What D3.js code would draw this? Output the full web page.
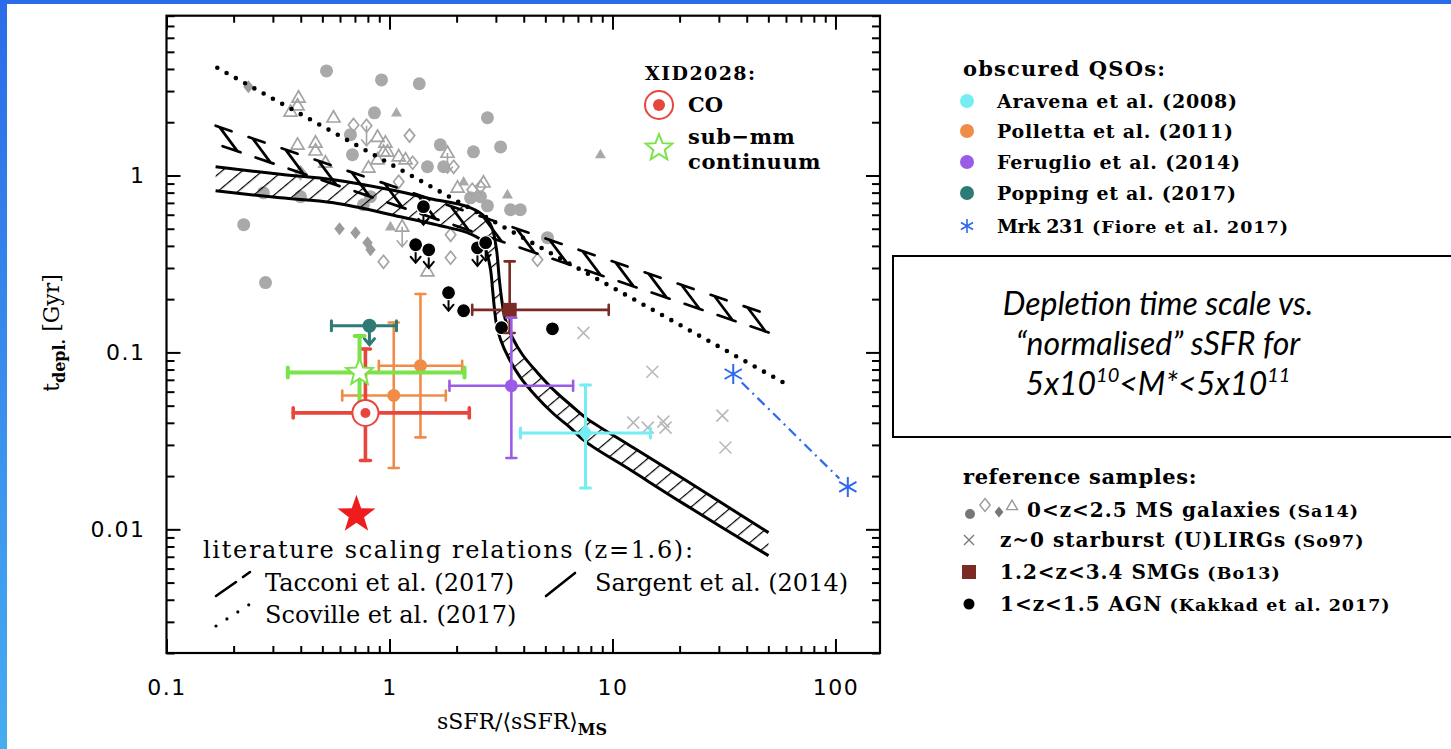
<!DOCTYPE html>
<html>
<head>
<meta charset="utf-8">
<script src="https://cdn.jsdelivr.net/npm/d3@7"></script>
<style>
  html, body { margin: 0; padding: 0; background: #fff; }
  svg { display: block; }
</style>
</head>
<body>
<svg id="chart" width="1451" height="749"></svg>
<script>
// ---------------- axis ticks ----------------
const xMajorTicks = [0.1, 1, 10, 100];
const xTickLabels = ["0.1", "1", "10", "100"];
const yMajorTicks = [0.01, 0.1, 1];
const yTickLabels = ["0.01", "0.1", "1"];

// ---------------- reference samples: MS galaxies (Sa14) ----------------
// [sSFR/<sSFR>_MS, t_depl (Gyr), upper limit?]
const msCircles = [
  [0.522, 3.90], [0.921, 3.47], [1.36, 3.30], [0.856, 2.26], [2.75, 2.12],
  [0.668, 1.70], [1.69, 1.49], [2.38, 1.36], [3.15, 1.45], [0.682, 1.31],
  [1.48, 1.12], [1.75, 1.12], [2.75, 0.674], [3.49, 0.640], [3.86, 0.640],
  [2.56, 0.758], [2.31, 0.748], [5.11, 0.445], [0.222, 0.527], [0.278, 0.248],
  [0.272, 0.798], [0.399, 0.758], [0.764, 0.683], [0.822, 0.758]
];
const msOpenDiamonds = [
  [0.690, 1.93], [0.789, 1.91, 1], [1.23, 1.68], [1.94, 1.12], [1.27, 1.18],
  [1.10, 0.921], [2.35, 0.830], [1.88, 0.462], [0.940, 0.325], [1.88, 0.343],
  [4.61, 0.334], [0.399, 1.035], [2.56, 0.863]
];
const msFilledDiamonds = [
  [0.233, 3.17], [0.597, 0.500], [0.704, 0.475], [0.797, 0.417], [0.822, 0.380]
];
const msOpenTriangles = [
  [0.391, 2.75], [0.387, 2.48], [0.360, 2.29], [0.561, 2.12], [0.884, 1.65],
  [0.959, 1.53], [0.387, 1.49], [0.466, 1.53], [0.466, 1.38], [0.884, 1.23],
  [0.980, 1.36], [1.10, 1.28], [1.18, 1.23], [1.82, 1.34, 1], [0.805, 1.105],
  [0.516, 1.18], [1.48, 0.286], [2.02, 0.852], [2.64, 0.910], [0.940, 1.36],
  [1.14, 0.513, 1]
];
const msFilledTriangles = [
  [1.075, 2.26], [8.83, 1.31], [2.15, 0.921], [3.38, 0.778], [1.01, 0.513]
];

// z~0 starburst (U)LIRGs (So97)
const ulirgs = [
  [7.41, 0.129], [15.1, 0.0778], [12.4, 0.0401], [14.4, 0.0376],
  [16.9, 0.0406], [17.3, 0.0376], [31.1, 0.0439], [32.1, 0.0290]
];

// 1<z<1.5 AGN (Kakkad et al. 2017)
const agnLimits = [
  [1.42, 0.666], [1.31, 0.406], [1.50, 0.380], [2.48, 0.390], [2.70, 0.417], [1.84, 0.2175]
];
const agnDetections = [[2.15, 0.172], [3.18, 0.138], [5.38, 0.136]];

// 1.2<z<3.4 SMGs (Bo13)
const smg = { x: 3.46, xlo: 2.35, xhi: 9.62, y: 0.174, ylo: 0.1288, yhi: 0.327 };

// ---------------- obscured QSOs ----------------
const aravena = { x: 7.57, xlo: 3.87, xhi: 14.8, y: 0.0350, ylo: 0.01714, yhi: 0.0654 };
const polletta = [
  { x: 1.045, xlo: 0.614, xhi: 1.789, y: 0.0571, ylo: 0.0222, yhi: 0.1477 },
  { x: 1.377, xlo: 0.896, xhi: 2.118, y: 0.0841, ylo: 0.0331, yhi: 0.2138 }
];
const feruglio = { x: 3.52, xlo: 1.858, xhi: 6.66, y: 0.0648, ylo: 0.0253, yhi: 0.157 };
const popping = { x: 0.813, xlo: 0.549, xhi: 1.075, y: 0.1415 };   // upper limit
const mrk231 = [[34.8, 0.0755], [113.6, 0.01737]];

// ---------------- XID2028 ----------------
const xidCO = { x: 0.780, xlo: 0.370, xhi: 2.28, y: 0.0455, ylo: 0.0245, yhi: 0.1045 };
const xidSubmm = { x: 0.734, xlo: 0.350, xhi: 2.17, y: 0.0771, ylo: 0.047, yhi: 0.124 };
const highlightStar = [0.711, 0.0121];

// ---------------- literature scaling relations (z=1.6) ----------------
const scovilleLine = [[0.169, 4.06], [60.9, 0.0657]];
const tacconiUpper = [[0.166, 1.91], [66.2, 0.145]];
const tacconiLower = [[0.166, 1.51], [66.2, 0.115]];
const sargentUpper = [
  [0.166, 1.12], [0.324, 1.016], [0.561, 0.946], [1.01, 0.830], [1.527, 0.739],
  [2.24, 0.666], [2.61, 0.600], [2.87, 0.513], [3.02, 0.380], [3.11, 0.257],
  [3.21, 0.186], [3.31, 0.153], [3.56, 0.121], [3.95, 0.0970], [4.61, 0.0768],
  [5.55, 0.0600], [6.48, 0.0506], [7.57, 0.0428], [12.0, 0.0297], [20.8, 0.0193],
  [50.1, 0.00958]
];
const sargentLower = [
  [0.166, 0.820], [0.324, 0.748], [0.561, 0.701], [1.12, 0.584], [1.69, 0.520],
  [2.24, 0.475], [2.56, 0.433], [2.72, 0.371], [2.84, 0.293], [2.90, 0.226],
  [2.96, 0.174], [3.02, 0.1433], [3.15, 0.118], [3.42, 0.0933], [3.87, 0.0720],
  [4.52, 0.0569], [5.44, 0.0450], [6.48, 0.0375], [7.57, 0.0313], [12.0, 0.0217],
  [20.8, 0.01397], [50.1, 0.0071]
];

// ---------------- legend text ----------------
const qsoLegendTitle = "obscured QSOs:";
const qsoLegendMain = ["Aravena et al. (2008)", "Polletta et al. (2011)", "Feruglio et al. (2014)", "Popping et al. (2017)", "Mrk 231"];
const qsoLegendSmall = ["", "", "", "", "(Fiore et al. 2017)"];
const refLegendTitle = "reference samples:";
const refLegendMain = ["0<z<2.5 MS galaxies", "z~0 starburst (U)LIRGs", "1.2<z<3.4 SMGs", "1<z<1.5 AGN"];
const refLegendSmall = ["(Sa14)", "(So97)", "(Bo13)", "(Kakkad et al. 2017)"];
const relTitle = "literature scaling relations (z=1.6):";
const relNames = ["Tacconi et al. (2017)", "Sargent et al. (2014)", "Scoville et al. (2017)"];

// ---------------- colours ----------------
const C = {
  aravena: "#74eef2", polletta: "#f08c48", feruglio: "#9a5ce6", popping: "#2e7a74",
  mrk: "#2f68ee", smg: "#7b2a25", co: "#e8463c", submm: "#7be34a",
  grey: "#a9a9a9", greyLine: "#a4a4a4", cross: "#b9b9b9", star: "#ee1c1c"
};

// =====================================================================
const W = 1451, H = 749;
const svg = d3.select("#chart");
const defs = svg.append("defs");

// blue slide frame
const grad = defs.append("linearGradient").attr("id", "sideGrad")
  .attr("x1", 0).attr("y1", 0).attr("x2", 0).attr("y2", 1);
grad.append("stop").attr("offset", "0%").attr("stop-color", "#2a6ce8");
grad.append("stop").attr("offset", "100%").attr("stop-color", "#47acf0");
svg.append("rect").attr("x", 0).attr("y", 0).attr("width", 7).attr("height", H).attr("fill", "url(#sideGrad)");
svg.append("rect").attr("x", 0).attr("y", 0).attr("width", W).attr("height", 4).attr("fill", "#2a6ce8");

// plot frame & scales
const PL = 166.5, PR = 880, PT = 15.7, PB = 653;
const sx = d3.scaleLog().domain([0.1, 158.4]).range([PL, PR]);
const sy = d3.scaleLog().domain([0.002, 8]).range([PB, PT]);

defs.append("clipPath").attr("id", "plotClip").append("rect")
  .attr("x", PL).attr("y", PT).attr("width", PR - PL).attr("height", PB - PT);

const hatch = defs.append("pattern").attr("id", "hatch")
  .attr("patternUnits", "userSpaceOnUse").attr("width", 13).attr("height", 13)
  .attr("patternTransform", "rotate(50)");
hatch.append("line").attr("x1", 0).attr("y1", 0).attr("x2", 0).attr("y2", 13)
  .attr("stroke", "#000").attr("stroke-width", 2.4);

const plot = svg.append("g").attr("clip-path", "url(#plotClip)");

// ---------- symbol helpers ----------
function diamondPath(r) { return `M0,${-r}L${r * 0.8},0L0,${r}L${-r * 0.8},0Z`; }
function trianglePath(s) { const h = s * 0.866; return `M0,${-h * 0.62}L${s / 2},${h * 0.38}L${-s / 2},${h * 0.38}Z`; }
function starPath(ro, ri) {
  let p = "";
  for (let i = 0; i < 10; i++) {
    const r = i % 2 === 0 ? ro : ri;
    const a = -Math.PI / 2 + i * Math.PI / 5;
    p += (i === 0 ? "M" : "L") + (r * Math.cos(a)).toFixed(2) + "," + (r * Math.sin(a)).toFixed(2);
  }
  return p + "Z";
}
function downArrow(g, x, y, len, color, w) {
  g.append("line").attr("x1", x).attr("y1", y).attr("x2", x).attr("y2", y + len)
    .attr("stroke", color).attr("stroke-width", w);
  g.append("path").attr("d", `M${x - 5},${y + len - 6}L${x},${y + len}L${x + 5},${y + len - 6}`)
    .attr("fill", "none").attr("stroke", color).attr("stroke-width", w).attr("stroke-linecap", "round");
}
function asterisk(g, x, y, r, color, w) {
  let p = "";
  [90, 30, 150].forEach(deg => {
    const a = deg * Math.PI / 180;
    p += `M${x - r * Math.cos(a)},${y - r * Math.sin(a)}L${x + r * Math.cos(a)},${y + r * Math.sin(a)}`;
  });
  g.append("path").attr("d", p).attr("stroke", color).attr("stroke-width", w).attr("fill", "none");
}
// text, optionally stretched to a given span
function fitText(g, x, y, str, size, span, ls) {
  const t = g.append("text").attr("x", x).attr("y", y).attr("font-size", size).text(str);
  if (span) t.attr("textLength", span).attr("lengthAdjust", "spacing");
  if (ls) t.attr("letter-spacing", ls);
  return t;
}
// main label followed by a smaller parenthetical reference
function legendPair(g, x, y, main, small, mainSize, mainSpan, mainLs) {
  const t = fitText(g, x, y, main, mainSize, mainSpan, mainLs);
  if (!small) return;
  const w = mainSpan || t.node().getComputedTextLength();
  fitText(g, x + w + 7, y, small, 17.5, null, 1.0);
}

// ---------- grey MS galaxies ----------
const gGrey = plot.append("g");
function greyLimits(arr) {
  arr.filter(d => d[2]).forEach(d => downArrow(gGrey, sx(d[0]), sy(d[1]), 20, C.greyLine, 1.6));
}
greyLimits(msOpenDiamonds); greyLimits(msOpenTriangles);
gGrey.selectAll(".msc").data(msCircles).join("circle")
  .attr("cx", d => sx(d[0])).attr("cy", d => sy(d[1])).attr("r", 6.5).attr("fill", C.grey);
gGrey.selectAll(".msfd").data(msFilledDiamonds).join("path")
  .attr("transform", d => `translate(${sx(d[0])},${sy(d[1])})`).attr("d", diamondPath(6.5)).attr("fill", "#9c9c9c");
gGrey.selectAll(".msft").data(msFilledTriangles).join("path")
  .attr("transform", d => `translate(${sx(d[0])},${sy(d[1])})`).attr("d", trianglePath(11)).attr("fill", C.grey);
gGrey.selectAll(".msod").data(msOpenDiamonds).join("path")
  .attr("transform", d => `translate(${sx(d[0])},${sy(d[1])})`).attr("d", diamondPath(6.5))
  .attr("fill", "none").attr("stroke", C.greyLine).attr("stroke-width", 1.7);
gGrey.selectAll(".msot").data(msOpenTriangles).join("path")
  .attr("transform", d => `translate(${sx(d[0])},${sy(d[1])})`).attr("d", trianglePath(13))
  .attr("fill", "none").attr("stroke", C.greyLine).attr("stroke-width", 1.7);

// ---------- ULIRG crosses ----------
plot.append("g").selectAll("path").data(ulirgs).join("path")
  .attr("transform", d => `translate(${sx(d[0])},${sy(d[1])})`)
  .attr("d", "M-6,-6L6,6M-6,6L6,-6").attr("stroke", C.cross).attr("stroke-width", 1.6).attr("fill", "none");

// ---------- Sargent et al. (2014) band ----------
const bandLine = d3.line().x(d => sx(d[0])).y(d => sy(d[1])).curve(d3.curveCatmullRom.alpha(0.5));
const upPath = bandLine(sargentUpper);
const lowRevPath = bandLine(sargentLower.slice().reverse());
plot.append("path").attr("d", upPath + "L" + lowRevPath.substring(1) + "Z").attr("fill", "url(#hatch)");
plot.append("path").attr("d", upPath).attr("fill", "none").attr("stroke", "#000").attr("stroke-width", 3);
plot.append("path").attr("d", bandLine(sargentLower)).attr("fill", "none").attr("stroke", "#000").attr("stroke-width", 3);

// ---------- Tacconi et al. (2017) band (dashed edges with zig-zag ties) ----------
(function () {
  const u1 = [sx(tacconiUpper[0][0]), sy(tacconiUpper[0][1])], u2 = [sx(tacconiUpper[1][0]), sy(tacconiUpper[1][1])];
  const l1 = [sx(tacconiLower[0][0]), sy(tacconiLower[0][1])], l2 = [sx(tacconiLower[1][0]), sy(tacconiLower[1][1])];
  const top = x => [x, u1[1] + (u2[1] - u1[1]) * (x - u1[0]) / (u2[0] - u1[0])];
  const bot = x => [x, l1[1] + (l2[1] - l1[1]) * (x - l1[0]) / (l2[0] - l1[0])];
  const g = plot.append("g").attr("stroke", "#000").attr("stroke-width", 2.7).attr("fill", "none").attr("stroke-linecap", "round");
  const period = 33;
  for (let s = u1[0]; s + 24 <= u2[0] + 1; s += period) {
    const a = top(s), b = top(s + 16), c = top(s + 4), d = bot(s + 22), e = bot(s + 7), f = bot(s + 25);
    g.append("path").attr("d", `M${a}L${b}M${c}L${d}M${e}L${f}`);
  }
})();

// ---------- Scoville et al. (2017) dotted line ----------
plot.append("path").attr("d", d3.line().x(d => sx(d[0])).y(d => sy(d[1]))(scovilleLine))
  .attr("fill", "none").attr("stroke", "#000").attr("stroke-width", 4.6)
  .attr("stroke-linecap", "round").attr("stroke-dasharray", "0 10.6");

// ---------- AGN ----------
const gAgn = plot.append("g");
agnLimits.forEach(d => downArrow(gAgn, sx(d[0]), sy(d[1]), 18, "#000", 2));
gAgn.selectAll(".al").data(agnLimits.concat(agnDetections)).join("circle")
  .attr("cx", d => sx(d[0])).attr("cy", d => sy(d[1])).attr("r", 7)
  .attr("fill", "#000").attr("stroke", "#fff").attr("stroke-width", 1.2);

// ---------- error-bar helper ----------
function errBars(d, color, w, cap, noY) {
  const g = plot.append("g").attr("stroke", color).attr("stroke-width", w).attr("stroke-linecap", "round").attr("fill", "none");
  const x = sx(d.x), y = sy(d.y);
  g.append("line").attr("x1", sx(d.xlo)).attr("x2", sx(d.xhi)).attr("y1", y).attr("y2", y);
  g.append("line").attr("x1", sx(d.xlo)).attr("x2", sx(d.xlo)).attr("y1", y - cap).attr("y2", y + cap);
  g.append("line").attr("x1", sx(d.xhi)).attr("x2", sx(d.xhi)).attr("y1", y - cap).attr("y2", y + cap);
  if (!noY) {
    g.append("line").attr("x1", x).attr("x2", x).attr("y1", sy(d.ylo)).attr("y2", sy(d.yhi));
    g.append("line").attr("x1", x - cap).attr("x2", x + cap).attr("y1", sy(d.ylo)).attr("y2", sy(d.ylo));
    g.append("line").attr("x1", x - cap).attr("x2", x + cap).attr("y1", sy(d.yhi)).attr("y2", sy(d.yhi));
  }
  return g;
}

// SMG
errBars(smg, C.smg, 2.6, 5);
plot.append("rect").attr("x", sx(smg.x) - 7).attr("y", sy(smg.y) - 7).attr("width", 14).attr("height", 14).attr("fill", C.smg);

// obscured QSOs
errBars(feruglio, C.feruglio, 2.6, 5);
plot.append("circle").attr("cx", sx(feruglio.x)).attr("cy", sy(feruglio.y)).attr("r", 6.5).attr("fill", C.feruglio);
errBars(aravena, C.aravena, 3, 5);
plot.append("path").attr("transform", `translate(${sx(aravena.x)},${sy(aravena.y)})`).attr("d", diamondPath(9)).attr("fill", C.aravena);
polletta.forEach(p => {
  errBars(p, C.polletta, 2.6, 5);
  plot.append("circle").attr("cx", sx(p.x)).attr("cy", sy(p.y)).attr("r", 6.5).attr("fill", C.polletta);
});
errBars(popping, C.popping, 3, 5, true);
downArrow(plot.append("g"), sx(popping.x), sy(popping.y), 19, C.popping, 3);
plot.append("circle").attr("cx", sx(popping.x)).attr("cy", sy(popping.y)).attr("r", 7).attr("fill", C.popping);

// XID2028
errBars(xidCO, C.co, 3.6, 5);
errBars(xidSubmm, C.submm, 4, 5);
plot.append("circle").attr("cx", sx(xidCO.x)).attr("cy", sy(xidCO.y)).attr("r", 13)
  .attr("fill", "#fff").attr("stroke", C.co).attr("stroke-width", 2);
plot.append("circle").attr("cx", sx(xidCO.x)).attr("cy", sy(xidCO.y)).attr("r", 5).attr("fill", C.co);
plot.append("path").attr("transform", `translate(${sx(xidSubmm.x)},${sy(xidSubmm.y)})`).attr("d", starPath(14, 6))
  .attr("fill", "#fff").attr("stroke", C.submm).attr("stroke-width", 2);

// Mrk 231
(function () {
  const a = [sx(mrk231[0][0]), sy(mrk231[0][1])], b = [sx(mrk231[1][0]), sy(mrk231[1][1])];
  const dx = b[0] - a[0], dy = b[1] - a[1], L = Math.hypot(dx, dy), ux = dx / L, uy = dy / L;
  plot.append("line").attr("x1", a[0] + ux * 12).attr("y1", a[1] + uy * 12).attr("x2", b[0] - ux * 12).attr("y2", b[1] - uy * 12)
    .attr("stroke", C.mrk).attr("stroke-width", 2.2).attr("stroke-dasharray", "10 5 2 5");
})();
mrk231.forEach(d => asterisk(plot, sx(d[0]), sy(d[1]), 10, C.mrk, 2));

// highlight star
plot.append("path").attr("transform", `translate(${sx(highlightStar[0])},${sy(highlightStar[1])})`)
  .attr("d", starPath(20, 8)).attr("fill", C.star);

// ---------- axes ----------
const xMinor = [], yMinor = [];
[0.1, 1, 10, 100].forEach(d => { for (let m = 2; m <= 9; m++) { const v = m * d; if (v < 158) xMinor.push(v); } });
[0.001, 0.01, 0.1, 1].forEach(d => { for (let m = 2; m <= 9; m++) { const v = m * d; if (v > 0.0019 && v < 8.01) yMinor.push(v); } });

function styleAxis(g) {
  g.select(".domain").remove();
  g.selectAll(".tick line").attr("stroke", "#000").attr("stroke-width", 2);
  g.attr("font-family", "DejaVu Sans").attr("font-size", 22).attr("fill", "#000");
  g.selectAll(".tick text").attr("fill", "#000").attr("letter-spacing", 1.5);
}
const axes = svg.append("g");
axes.append("g").attr("transform", `translate(0,${PB})`)
  .call(d3.axisBottom(sx).tickValues(xMajorTicks).tickSizeInner(-14).tickSizeOuter(0).tickPadding(26).tickFormat((d, i) => xTickLabels[i])).call(styleAxis);
axes.append("g").attr("transform", `translate(0,${PB})`)
  .call(d3.axisBottom(sx).tickValues(xMinor).tickSizeInner(-7).tickSizeOuter(0).tickFormat("")).call(styleAxis);
axes.append("g").attr("transform", `translate(0,${PT})`)
  .call(d3.axisTop(sx).tickValues(xMajorTicks).tickSizeInner(-14).tickSizeOuter(0).tickFormat("")).call(styleAxis);
axes.append("g").attr("transform", `translate(0,${PT})`)
  .call(d3.axisTop(sx).tickValues(xMinor).tickSizeInner(-7).tickSizeOuter(0).tickFormat("")).call(styleAxis);
axes.append("g").attr("transform", `translate(${PL},0)`)
  .call(d3.axisLeft(sy).tickValues(yMajorTicks).tickSizeInner(-14).tickSizeOuter(0).tickPadding(21).tickFormat((d, i) => yTickLabels[i])).call(styleAxis);
axes.append("g").attr("transform", `translate(${PL},0)`)
  .call(d3.axisLeft(sy).tickValues(yMinor).tickSizeInner(-8).tickSizeOuter(0).tickFormat("")).call(styleAxis);
axes.append("g").attr("transform", `translate(${PR},0)`)
  .call(d3.axisRight(sy).tickValues(yMajorTicks).tickSizeInner(-14).tickSizeOuter(0).tickFormat("")).call(styleAxis);
axes.append("g").attr("transform", `translate(${PR},0)`)
  .call(d3.axisRight(sy).tickValues(yMinor).tickSizeInner(-8).tickSizeOuter(0).tickFormat("")).call(styleAxis);
svg.append("rect").attr("x", PL).attr("y", PT).attr("width", PR - PL).attr("height", PB - PT)
  .attr("fill", "none").attr("stroke", "#000").attr("stroke-width", 2.2);

// axis titles
const serif = "DejaVu Serif";
const xl = svg.append("text").attr("x", 522).attr("y", 729).attr("text-anchor", "middle")
  .attr("font-family", serif).attr("font-size", 22);
xl.append("tspan").text("sSFR/⟨sSFR⟩");
xl.append("tspan").attr("dy", 6).attr("font-size", 16).attr("font-weight", "bold").text("MS");
const yl = svg.append("text").attr("transform", "translate(59,333) rotate(-90)").attr("text-anchor", "middle")
  .attr("font-family", serif).attr("font-size", 22);
yl.append("tspan").text("t");
yl.append("tspan").attr("dy", 6).attr("font-size", 16).attr("font-weight", "bold").text("depl.");
yl.append("tspan").attr("dy", -6).text(" [Gyr]");

// ---------- in-plot legend: XID2028 ----------
const tl = svg.append("g").attr("font-family", serif).attr("font-weight", "bold");
fitText(tl, 645, 80, "XID2028:", 19, 110);
fitText(tl, 688, 112, "CO", 21);
fitText(tl, 688, 144, "sub\u2212mm", 21, null, 0.6);
fitText(tl, 688, 169, "continuum", 21, null, 0.6);
svg.append("circle").attr("cx", 659).attr("cy", 105).attr("r", 14).attr("fill", "#fff").attr("stroke", C.co).attr("stroke-width", 2);
svg.append("circle").attr("cx", 659).attr("cy", 105).attr("r", 6).attr("fill", C.co);
svg.append("path").attr("transform", "translate(659,148)").attr("d", starPath(14, 6))
  .attr("fill", "#fff").attr("stroke", C.submm).attr("stroke-width", 2);

// ---------- in-plot legend: scaling relations ----------
const ll = svg.append("g").attr("font-family", serif);
fitText(ll, 203, 558, relTitle, 24, 490);
fitText(ll, 265, 591, relNames[0], 24);
fitText(ll, 595, 591, relNames[1], 24);
fitText(ll, 265, 623, relNames[2], 24);
svg.append("path").attr("d", "M216,596L236,582M243,577L250,572").attr("stroke", "#000").attr("stroke-width", 2.6).attr("stroke-linecap", "round");
svg.append("path").attr("d", "M546,596L575,573").attr("stroke", "#000").attr("stroke-width", 2.6).attr("stroke-linecap", "round");
svg.append("path").attr("d", "M216,626L250,604").attr("stroke", "#000").attr("stroke-width", 3.2)
  .attr("stroke-linecap", "round").attr("stroke-dasharray", "0 13");

// ---------- right-hand legends ----------
const rl = svg.append("g").attr("font-family", serif).attr("font-weight", "bold").attr("fill", "#000");
fitText(rl, 963, 76, qsoLegendTitle, 21, null, 1.2);
const qsoRowsY = [101, 131, 162, 193, 226];
const qsoMainSpan = [240, 236, 243, 239, 88];
const qsoMarkColors = [C.aravena, C.polletta, C.feruglio, C.popping];
qsoLegendMain.forEach((s, i) => {
  legendPair(rl, 997, qsoRowsY[i] + 7, s, qsoLegendSmall[i], 19, qsoMainSpan[i]);
  if (i < 4) svg.append("circle").attr("cx", 967).attr("cy", qsoRowsY[i]).attr("r", 7).attr("fill", qsoMarkColors[i]);
});
asterisk(svg, 967, qsoRowsY[4], 7, C.mrk, 1.6);

fitText(rl, 963, 484, refLegendTitle, 21, null, 0.6);
const refRowsY = [510, 540, 572, 604];
const refMainX = [1027, 1000, 1000, 1000];
refLegendMain.forEach((s, i) => {
  legendPair(rl, refMainX[i], refRowsY[i] + 7, s, refLegendSmall[i], 20, null, 1.0);
});
svg.append("circle").attr("cx", 970).attr("cy", 514).attr("r", 5).attr("fill", "#777");
svg.append("path").attr("transform", "translate(985,505)").attr("d", diamondPath(6.5)).attr("fill", "none").attr("stroke", "#999").attr("stroke-width", 1.4);
svg.append("path").attr("transform", "translate(999,512)").attr("d", diamondPath(5.5)).attr("fill", "#777");
svg.append("path").attr("transform", "translate(1012,506)").attr("d", trianglePath(11)).attr("fill", "none").attr("stroke", "#999").attr("stroke-width", 1.4);
svg.append("path").attr("transform", "translate(969,540)").attr("d", "M-5,-5L5,5M-5,5L5,-5").attr("stroke", "#777").attr("stroke-width", 1.4);
svg.append("rect").attr("x", 962).attr("y", 565).attr("width", 14).attr("height", 14).attr("fill", C.smg);
svg.append("circle").attr("cx", 969).attr("cy", 604).attr("r", 5.5).attr("fill", "#000");

// ---------- text box ----------
svg.append("rect").attr("x", 893).attr("y", 256).attr("width", 600).attr("height", 181)
  .attr("fill", "#fff").attr("stroke", "#000").attr("stroke-width", 2);
const bx = svg.append("g").attr("font-family", "Lato").attr("font-style", "italic").attr("font-size", 32).attr("text-anchor", "middle");
bx.append("text").attr("x", 1158).attr("y", 315).text("Depletion time scale vs.");
bx.append("text").attr("x", 1158).attr("y", 355).text("\u201Cnormalised\u201D sSFR for");
const b3 = bx.append("text").attr("x", 1158).attr("y", 395);
b3.append("tspan").text("5x10");
b3.append("tspan").attr("dy", -13).attr("font-size", 20).text("10");
b3.append("tspan").attr("dy", 13).text("<M*<5x10");
b3.append("tspan").attr("dy", -13).attr("font-size", 20).text("11");
</script>
</body>
</html>
